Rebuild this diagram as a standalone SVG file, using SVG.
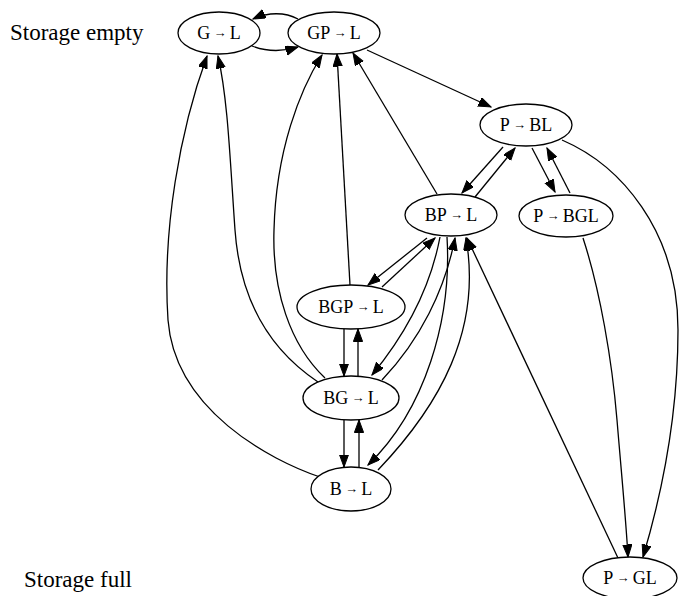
<svg xmlns="http://www.w3.org/2000/svg" width="686" height="596" viewBox="0 0 686 596">
<style>
  .node ellipse { fill: #fff; stroke: #000; stroke-width: 1.3; }
  .node text { font-family: "Liberation Serif", "Times New Roman", serif; font-size: 18px; text-anchor: middle; fill: #000; }
  .arr { font-size: 13px; }
  .lbl { font-family: "Liberation Serif", "Times New Roman", serif; font-size: 23px; fill: #000; }
  #edges path { fill: none; stroke: #000; stroke-width: 1.3; marker-end: url(#ah); }
</style>
<defs>
  <marker id="ah" markerUnits="userSpaceOnUse" markerWidth="14" markerHeight="10" refX="12.5" refY="4.6" orient="auto">
    <path d="M0,0 L12.5,4.6 L0,9.2 z" fill="#000" stroke="#000" stroke-width="1"/>
  </marker>
</defs>
<rect width="686" height="596" fill="#fff"/>
<text class="lbl" x="10" y="40">Storage empty</text>
<text class="lbl" x="24" y="587">Storage full</text>
<g id="edges">
  <path d="M298,19 C285,12 268,12 253,19"/>
  <path d="M252,46 C265,51 282,52 298,47"/>
  <path d="M367,50 L491,107"/>
  <path d="M503,147 L462,193"/>
  <path d="M475,197 L515,148"/>
  <path d="M532,148 L555,192"/>
  <path d="M570,193 L547,148"/>
  <path d="M562,140 C620,165 678,230 678,330 C678,420 660,500 643,557"/>
  <path d="M583,238 C600,290 612,360 617,420 C622,480 626,520 628,557"/>
  <path d="M618,558 L467,238"/>
  <path d="M437,194 L353,53"/>
  <path d="M350,285 L337,54"/>
  <path d="M325,378 C290,345 272,290 274,230 C276,150 300,90 322,55"/>
  <path d="M318,382 C270,350 240,300 235,230 C230,160 228,100 218,56"/>
  <path d="M320,477 C270,460 175,410 168,320 C162,230 180,130 207,56"/>
  <path d="M344,329 L344,376"/>
  <path d="M358,376 L358,329"/>
  <path d="M344,420 L344,467"/>
  <path d="M359,467 L359,420"/>
  <path d="M427,238 L368,285"/>
  <path d="M382,287 L435,238"/>
  <path d="M440,237 C430,290 405,335 372,375"/>
  <path d="M382,380 C420,340 445,290 455,238"/>
  <path d="M447,237 C452,320 425,410 368,465"/>
  <path d="M378,470 C440,405 482,330 466,238"/>
</g>
<g id="n_GL" class="node"><ellipse cx="219" cy="33" rx="41" ry="21"/><text x="219" y="39">G<tspan class="arr" dy="-2.5"> → </tspan><tspan dy="2.5">L</tspan></text></g>
<g id="n_GPL" class="node"><ellipse cx="334" cy="33" rx="46" ry="21"/><text x="334" y="39">GP<tspan class="arr" dy="-2.5"> → </tspan><tspan dy="2.5">L</tspan></text></g>
<g id="n_PBL" class="node"><ellipse cx="526" cy="125" rx="46" ry="21"/><text x="526" y="131">P<tspan class="arr" dy="-2.5"> → </tspan><tspan dy="2.5">BL</tspan></text></g>
<g id="n_BPL" class="node"><ellipse cx="451" cy="215" rx="46" ry="21"/><text x="451" y="221">BP<tspan class="arr" dy="-2.5"> → </tspan><tspan dy="2.5">L</tspan></text></g>
<g id="n_PBGL" class="node"><ellipse cx="566" cy="216" rx="47" ry="21"/><text x="566" y="222">P<tspan class="arr" dy="-2.5"> → </tspan><tspan dy="2.5">BGL</tspan></text></g>
<g id="n_BGPL" class="node"><ellipse cx="351" cy="307" rx="54" ry="22"/><text x="351" y="313">BGP<tspan class="arr" dy="-2.5"> → </tspan><tspan dy="2.5">L</tspan></text></g>
<g id="n_BGL" class="node"><ellipse cx="351" cy="398" rx="48" ry="22"/><text x="351" y="404">BG<tspan class="arr" dy="-2.5"> → </tspan><tspan dy="2.5">L</tspan></text></g>
<g id="n_BL" class="node"><ellipse cx="351" cy="489" rx="40" ry="22"/><text x="351" y="495">B<tspan class="arr" dy="-2.5"> → </tspan><tspan dy="2.5">L</tspan></text></g>
<g id="n_PGL" class="node"><ellipse cx="630" cy="578" rx="47" ry="21"/><text x="630" y="584">P<tspan class="arr" dy="-2.5"> → </tspan><tspan dy="2.5">GL</tspan></text></g>
</svg>
